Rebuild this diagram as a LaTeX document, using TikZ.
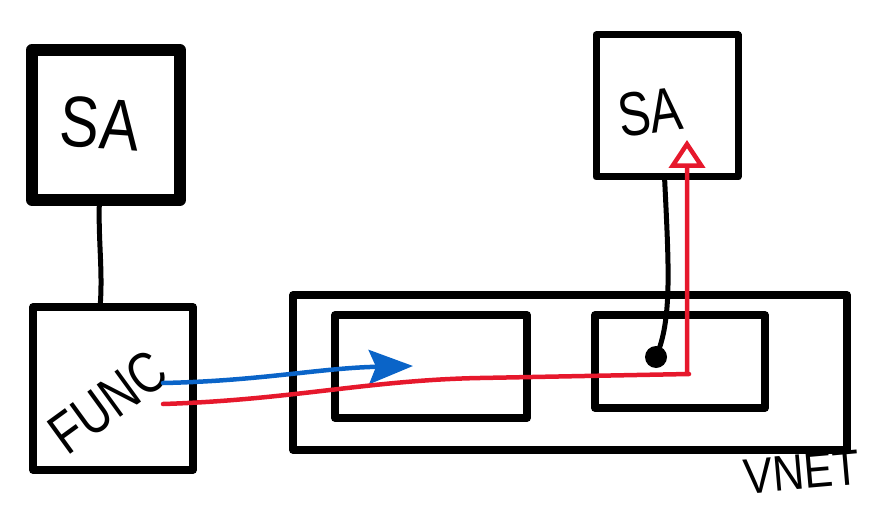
\documentclass[tikz,border=0pt]{standalone}
\usepackage{fontspec}
\usepackage{graphicx}
\newfontfamily\hand{Liberation Sans}
\usetikzlibrary{arrows.meta}
\definecolor{inkred}{RGB}{230,24,44}
\definecolor{inkblue}{RGB}{10,100,200}
\tikzset{
  box/.style={draw=black, line cap=round, line join=round, inner sep=0pt, outer sep=0pt},
  ink/.style={line width=5pt, line cap=round, line join=round},
  label/.style={inner sep=0pt, font=\hand},
}
\begin{document}
\begin{tikzpicture}[x=1pt,y=-1pt]
\useasboundingbox (0,0) rectangle (880,513);
% boxes
\node[box, line width=12pt, minimum width=148pt, minimum height=150pt] (sa1) at (106,125) {};
\node[box, line width=7.5pt, minimum width=160pt, minimum height=163pt] (func) at (113,388.5) {};
\node[box, line width=7.5pt, minimum width=554pt, minimum height=155pt] (vnet) at (570,372.5) {};
\node[box, line width=7.5pt, minimum width=192pt, minimum height=103pt] (sub1) at (431,366.5) {};
\node[box, line width=7.5pt, minimum width=170pt, minimum height=93pt] (sub2) at (680,361.5) {};
\node[box, line width=7pt, minimum width=142pt, minimum height=142pt] (sa2) at (667,106) {};
% labels
\node[label, font=\hand\fontsize{72}{72}\selectfont, rotate=-4] (sa1t) at (100,124) {\scalebox{0.82}[1]{SA}};
\node[label, font=\hand\fontsize{62}{62}\selectfont, rotate=8] (sa2t) at (650,112) {\scalebox{0.78}[1]{SA}};
\node[label, font=\hand\fontsize{58}{58}\selectfont, rotate=36] (funct) at (108,402) {\scalebox{0.8}[1]{FUNC}};
\node[label, font=\hand\fontsize{50}{50}\selectfont, rotate=5] (vnett) at (802,472) {\scalebox{0.87}[1]{VNET}};
% free ends
\coordinate (bluestart) at (163,383);
\coordinate (blueend) at (413,366);
\coordinate (redstart) at (163,404);
\coordinate (redcorner) at (689,374);
\coordinate (redtip) at (687,140);
\coordinate (dot) at (656,357);
% connectors
\draw[ink] (sa1.-95) .. controls (98,240) and (103,270) .. (func.99);
\draw[ink] (sa2.-92) .. controls (669,270) and (672,320) .. (dot);
\fill (dot) circle (11pt);
\draw[ink, inkblue, line width=4.5pt, -{Stealth[length=44pt, width=34pt, inset=7pt]}]
  (bluestart) .. controls (260,381) and (320,368) .. (blueend);
\draw[ink, inkred, line width=4.5pt, -{Triangle[open, length=28pt, width=36pt]}]
  (redstart) .. controls (290,400) and (370,380) .. (480,378) -- (redcorner) -- (687,374) -- (redtip);
\end{tikzpicture}
\end{document}
